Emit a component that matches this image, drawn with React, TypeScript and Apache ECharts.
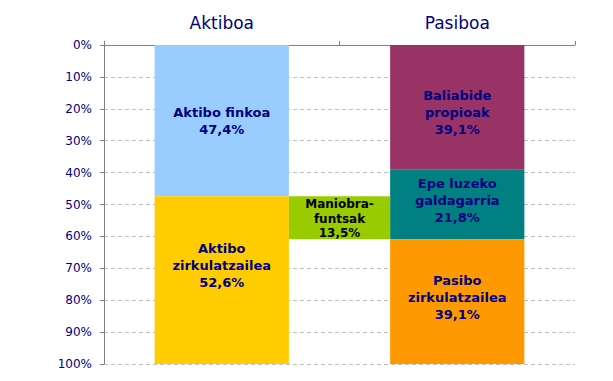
import React, { useEffect, useRef } from "react";
import * as echarts from "echarts";

// ---- data ----
const categories = ["Aktiboa", "Pasiboa"];
const segmentNames = [
  "Aktibo finkoa",
  "Aktibo zirkulatzailea",
  "Baliabide propioak",
  "Epe luzeko galdagarria",
  "Pasibo zirkulatzailea",
];
const segmentLabels = [
  "Aktibo finkoa",
  "Aktibo\nzirkulatzailea",
  "Baliabide\npropioak",
  "Epe luzeko\ngaldagarria",
  "Pasibo\nzirkulatzailea",
];
// value per category (null = not in that column)
const segmentValues: (number | null)[][] = [
  [47.4, null],
  [52.6, null],
  [null, 39.1],
  [null, 21.8],
  [null, 39.1],
];
const workingCapitalName = "Maniobra-funtsak";
const workingCapitalLabel = "Maniobra-\nfuntsak";
const workingCapitalStart = 47.4;
const workingCapitalValue = 13.5;
const yTicks = [0, 10, 20, 30, 40, 50, 60, 70, 80, 90, 100];

// ---- styles ----
const segmentColors = ["#99CCFF", "#FFCC00", "#993366", "#008080", "#FF9900"];
const labelOffsets = [
  [0, 0],
  [0, -15],
  [0, 5],
  [0, -4],
  [0, -4],
];
const BAR_RATIO = 0.57;
const NAVY = "#000080";
const AXIS = "#808080";
const FONT = '"DejaVu Sans", Verdana, sans-serif';

const fmt = (v: number) => v.toFixed(1).replace(".", ",") + "%";

export default function App() {
  const ref = useRef<HTMLDivElement>(null);
  useEffect(() => {
    if (!ref.current) return;
    const chart = echarts.init(ref.current, undefined, { renderer: "svg" });
    const barSeries = segmentNames.map((name, i) => ({
      name,
      type: "bar",
      stack: "total",
      barWidth: BAR_RATIO * 100 + "%",
      data: segmentValues[i].map((v) => (v == null ? "-" : v)),
      itemStyle: { color: segmentColors[i] },
      label: {
        show: true,
        position: "inside",
        offset: labelOffsets[i],
        formatter: (p: any) => segmentLabels[i] + "\n" + fmt(p.value),
        color: NAVY,
        fontFamily: FONT,
        fontWeight: "bold",
        fontSize: 13,
        lineHeight: 17,
      },
    }));
    const customSeries = {
      name: workingCapitalName,
      type: "custom",
      data: [[0, workingCapitalStart, workingCapitalValue]],
      z: 3,
      renderItem: (params: any, api: any) => {
        const start = api.value(1);
        const val = api.value(2);
        const c0 = api.coord([0, start]);
        const c1 = api.coord([1, start + val]);
        const band = api.size([1, 0])[0];
        const half = (band * BAR_RATIO) / 2;
        const x0 = c0[0] + half;
        const x1 = c1[0] - half;
        const yTop = Math.min(c0[1], c1[1]);
        const h = Math.abs(c1[1] - c0[1]);
        return {
          type: "group",
          children: [
            {
              type: "rect",
              shape: { x: x0, y: yTop, width: x1 - x0, height: h },
              style: { fill: "#99CC00" },
            },
            {
              type: "text",
              x: (x0 + x1) / 2,
              y: yTop + h / 2 + 1,
              style: {
                text: workingCapitalLabel + "\n" + fmt(val),
                align: "center",
                verticalAlign: "middle",
                fill: "#000000",
                font: 'bold 12px "DejaVu Sans", Verdana, sans-serif',
                lineHeight: 14.5,
              },
            },
          ],
        };
      },
    };
    chart.setOption({
      animation: false,
      grid: { left: 104, top: 45, right: 38, bottom: 17, containLabel: false },
      xAxis: {
        type: "category",
        position: "top",
        data: categories,
        axisLine: { show: true, lineStyle: { color: AXIS, width: 1 } },
        axisTick: { show: true, length: 4, lineStyle: { color: AXIS } },
        axisLabel: {
          color: NAVY,
          fontFamily: FONT,
          fontSize: 17,
          margin: 14,
        },
        splitLine: { show: false },
      },
      yAxis: {
        type: "value",
        inverse: true,
        min: yTicks[0],
        max: yTicks[yTicks.length - 1],
        interval: yTicks[1] - yTicks[0],
        axisLine: { show: true, lineStyle: { color: AXIS, width: 1 } },
        axisTick: { show: true, length: 4, lineStyle: { color: AXIS } },
        axisLabel: {
          color: NAVY,
          fontFamily: FONT,
          fontSize: 12,
          margin: 12,
          formatter: "{value}%",
        },
        splitLine: {
          show: true,
          lineStyle: { color: "#C0C0C0", type: [4, 3] },
        },
      },
      series: [...barSeries, customSeries],
    });
    return () => chart.dispose();
  }, []);
  return (
    <div
      ref={ref}
      style={{ position: "fixed", left: 0, top: 0, width: 613, height: 381, background: "#fff" }}
    />
  );
}
